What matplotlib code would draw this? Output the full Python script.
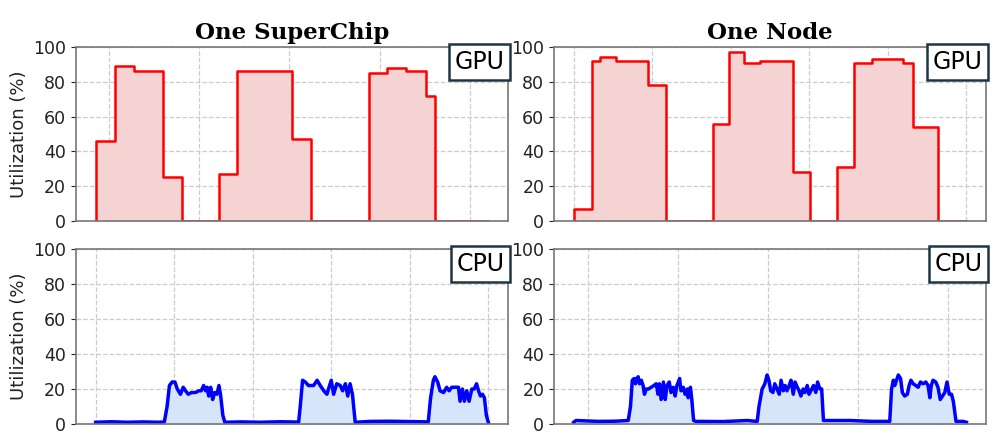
import matplotlib
matplotlib.use('Agg')
import matplotlib.pyplot as plt

# GPU utilization (step samples), time in s
gpu_sc_t = [17.1, 17.1, 21.3, 25.5, 32.1, 36.2, 44.3, 48.3, 60.6, 64.8,
            77.6, 81.6, 85.7, 90.1, 92.3, 104.0]
gpu_sc_v = [0, 46, 89, 86, 25, 0, 27, 86, 47, 0, 85, 88, 86, 72, 0, 0]

gpu_node_t = [0, 0, 4.7, 6.8, 10.7, 18.9, 23.6, 35.4, 39.5, 43.4, 47.5,
              55.9, 60.2, 67.0, 71.4, 75.9, 83.8, 86.5, 92.7, 100]
gpu_node_v = [0, 7, 92, 94, 92, 78, 0, 56, 97, 91, 92, 28, 0, 31, 91, 93,
              91, 54, 0, 0]

# CPU utilization
cpu_sc_t = [0, 4, 8, 12, 16, 17.5, 18.2, 18.8, 19.5, 20.2, 20.8, 21.6, 22.3,
            22.9, 23.6, 24.4, 25.4, 26.3, 26.9, 27.5, 28.0, 28.4, 28.8, 29.3,
            29.8, 30.3, 30.9, 31.4, 31.8, 32.4, 32.9, 37, 42, 47, 51.7, 52.1,
            52.7, 53.4, 54.2, 55.5, 56.4, 57.2, 58.1, 58.9, 59.3, 60.0, 60.6,
            61.4, 62.3, 62.9, 63.6, 64.2, 64.8, 65.4, 66.1, 70, 75, 80, 84.7,
            85.3, 86.0, 86.4, 87.1, 87.7, 88.6, 89.4, 90.0, 90.7, 91.5, 92.4,
            92.8, 93.4, 93.9, 94.5, 95.1, 95.8, 96.4, 97.0, 97.5, 98.0, 98.5,
            99.0, 99.5, 100]
cpu_sc_v = [1.0, 1.3, 1.0, 1.2, 1.0, 1.2, 10, 22, 24, 24, 20, 17, 21, 19, 17,
            18, 18, 19, 19, 22, 19, 21, 16, 21, 14, 18, 17, 22, 17, 5, 1.0,
            1.2, 1.0, 1.3, 1.1, 10, 25, 24, 22, 22, 25, 22, 19, 17, 20, 25, 17,
            23, 22, 19, 23, 16, 23, 17, 1.0, 1.5, 1.6, 1.4, 1.2, 15, 25, 27,
            24, 19, 18, 21, 19, 21, 21, 21, 13, 20, 13, 19, 13, 20, 20, 23, 19,
            16, 17, 15, 5, 1.0]

cpu_node_t = [16.9, 17.4, 22.4, 26, 29.0, 29.5, 29.9, 30.3, 30.6, 30.9, 31.2,
              31.5, 31.9, 32.3, 32.6, 33.0, 33.5, 34.1, 34.7, 35.2, 35.6, 35.9,
              36.3, 36.8, 37.2, 37.6, 38.1, 38.5, 39.0, 39.4, 39.8, 40.4, 40.7,
              41.2, 41.6, 42.1, 42.3, 42.8, 43.1, 43.5, 44.0, 50, 55.4, 57.6,
              58.0, 58.7, 59.3, 59.8, 60.2, 60.6, 61.1, 61.5, 62.0, 62.5, 62.9,
              63.4, 63.8, 64.2, 64.7, 65.1, 65.6, 66.0, 66.5, 66.9, 67.3, 67.8,
              68.2, 68.7, 69.1, 69.5, 70.1, 70.6, 71.0, 71.5, 71.9, 72.3, 78.2,
              83, 87.0, 87.4, 87.8, 88.1, 88.5, 88.9, 89.4, 89.8, 90.3, 90.9,
              91.3, 91.7, 92.2, 92.8, 93.3, 93.8, 94.4, 95.0, 95.5, 95.9, 96.2,
              96.6, 97.2, 97.7, 98.2, 98.7, 99.2, 99.7, 100.2, 100.7, 101.1,
              101.7, 103.3, 104.0]
cpu_node_v = [1.0, 2.0, 1.5, 1.6, 2.0, 10, 25, 26, 23, 26, 27, 23, 25, 22, 17,
              20, 20, 21, 22, 23, 17, 23, 14, 24, 14, 22, 24, 18, 21, 16, 22,
              26, 19, 21, 17, 20, 15, 21, 14, 2, 1.5, 1.4, 2.0, 1.5, 10, 20, 23,
              28, 25, 19, 18, 23, 20, 17, 25, 19, 22, 19, 22, 25, 17, 24, 21,
              19, 16, 20, 18, 22, 17, 19, 22, 18, 24, 20, 20, 2, 2.0, 1.5, 1.5,
              20, 25, 22, 25, 28, 26, 18, 16, 17, 22, 25, 23, 22, 21, 24, 23,
              24, 22, 15, 22, 25, 24, 21, 14, 16, 18, 24, 17, 17, 13, 1.5, 1.5,
              1.0]

titles = ['One SuperChip', 'One Node']
xticks_offset = [20, 40, 60, 80, 100]
xticks_zero = [0, 20, 40, 60, 80, 100]

fig = plt.figure(figsize=(9.97, 4.34), dpi=100)
lefts = [0.0762, 0.5557]
width = 0.4333
rows = [(0.4908, 0.4009), (0.023, 0.4033)]

panels = [
    (0, 0, gpu_sc_t, gpu_sc_v, 'GPU', xticks_offset),
    (0, 1, gpu_node_t, gpu_node_v, 'GPU', xticks_zero),
    (1, 0, cpu_sc_t, cpu_sc_v, 'CPU', xticks_zero),
    (1, 1, cpu_node_t, cpu_node_v, 'CPU', xticks_offset),
]

for r, c, t, v, label, xt in panels:
    b, h = rows[r]
    ax = fig.add_axes([lefts[c], b, width, h])
    if label == 'GPU':
        ax.step(t, v, where='post', color='red', lw=1.8)
        ax.fill_between(t, v, step='post', color='#f6d3d3')
    else:
        ax.plot(t, v, color='blue', lw=2.5)
        ax.fill_between(t, v, color='#d6e5fa')
    ax.set_ylim(0, 100)
    ax.set_yticks([0, 20, 40, 60, 80, 100])
    ax.set_xticks(xt)
    ax.tick_params(axis='x', labelbottom=False, length=0)
    ax.tick_params(axis='y', labelsize=12.5, colors='#222222')
    ax.grid(True, ls='--', color='#cccccc', lw=0.9)
    ax.set_axisbelow(True)
    for s in ax.spines.values():
        s.set_color('#777777')
        s.set_linewidth(1.2)
    ax.text(0.992, 0.983, label, transform=ax.transAxes, ha='right', va='top',
            fontsize=17, bbox=dict(boxstyle='square,pad=0.25', fc='white',
                                   ec='#1d3545', lw=1.8))
    if c == 0:
        ax.set_ylabel('Utilization (%)', fontsize=13, color='#222222')
    if r == 0:
        ax.set_title(titles[c], fontsize=16.5, fontweight='bold',
                     family='DejaVu Serif', pad=6)

fig.savefig('out.png', dpi=100)
